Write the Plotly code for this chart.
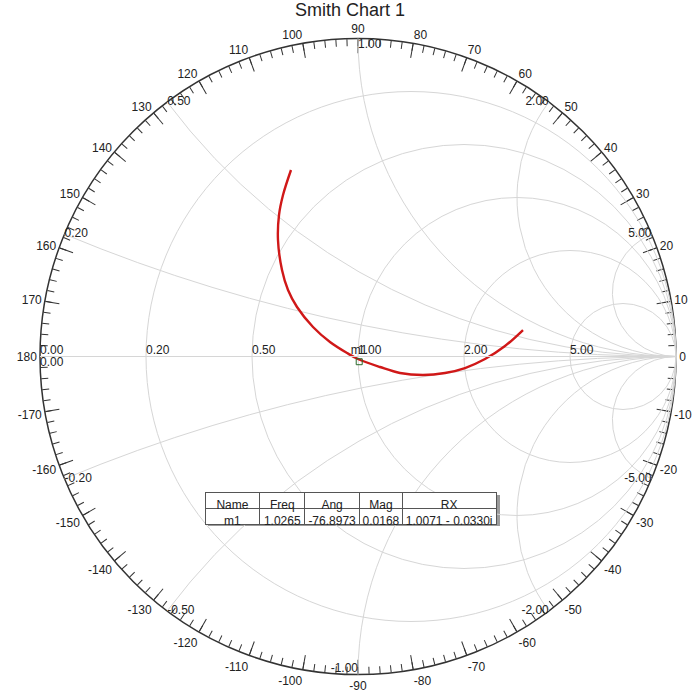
import plotly.graph_objects as go

title_text = "Smith Chart 1"

# S11 (reflection coefficient)
s11_re = [-0.2107, -0.2358, -0.2484, -0.2516, -0.2390, -0.2201, -0.1918, -0.1415, -0.0881,
          -0.0346, 0.0000, 0.0692, 0.1321, 0.2044, 0.2736, 0.3365, 0.3994, 0.4623, 0.5189]
s11_im = [0.5865, 0.5079, 0.4450, 0.3664, 0.2720, 0.2091, 0.1557, 0.0928, 0.0456,
          0.0110, -0.0079, -0.0330, -0.0519, -0.0582, -0.0519, -0.0362, -0.0079, 0.0330, 0.0833]

marker_name = "m1"
marker_r = 1.0071
marker_x = -0.0330

r_ticks = [0.2, 0.5, 1, 2, 5]
x_ticks = [-5, -2, -1, -0.5, -0.2, 0, 0.2, 0.5, 1, 2, 5]
angle_major = list(range(0, 360, 10))
angle_minor = list(range(0, 360, 2))

table_header = ["Name", "Freq", "Ang", "Mag", "RX"]
table_row = ["m1", "1.0265", "-76.8973", "0.0168", "1.0071 - 0.0330i"]

FONT = "Liberation Sans, Arial, sans-serif"
TXT = "#222222"

# normalized impedance from S11
z = [(1 + complex(a, b)) / (1 - complex(a, b)) for a, b in zip(s11_re, s11_im)]
z_re = [v.real for v in z]
z_im = [v.imag for v in z]

# subplot geometry (circle centre 358,356.5 px, radius 318 px)
W, H = 700, 691
cx, cy, R = 358, 356.5, 318
dom_x = [(cx - R) / W, (cx + R) / W]
dom_y = [(H - cy - R) / H, (H - cy + R) / H]

fig = go.Figure()

# data curve
fig.add_trace(go.Scattersmith(real=z_re, imag=z_im, mode="lines",
                              line=dict(color="#d01818", width=2.4, shape="spline"),
                              hoverinfo="skip", showlegend=False))

# resistance labels along the real axis
r_lab_vals = [0] + r_ticks
fig.add_trace(go.Scattersmith(real=r_lab_vals, imag=[0] * len(r_lab_vals), mode="text",
                              text=["%.2f" % v for v in r_lab_vals], textposition="top right",
                              textfont=dict(family=FONT, size=12, color=TXT),
                              hoverinfo="skip", showlegend=False))

# reactance labels around the rim
pos = {0.2: "middle right", 0.5: "middle right", 1: "bottom right", 2: "middle left", 5: "middle left",
       -0.2: "middle right", -0.5: "middle right", -1: "top left", -2: "middle left", -5: "middle left",
       0: "bottom right"}
fig.add_trace(go.Scattersmith(real=[0] * len(x_ticks), imag=x_ticks, mode="text",
                              text=["%.2f" % v for v in x_ticks],
                              textposition=[pos[v] for v in x_ticks],
                              textfont=dict(family=FONT, size=12, color=TXT),
                              hoverinfo="skip", showlegend=False))

# marker m1
fig.add_trace(go.Scattersmith(real=[marker_r], imag=[marker_x], mode="markers+text",
                              text=[marker_name], textposition="top center",
                              textfont=dict(family=FONT, size=12, color=TXT),
                              marker=dict(symbol="square-open", size=6, color="#2a6a2a", line=dict(width=1)),
                              hoverinfo="skip", showlegend=False))

# polar overlays for the angle scale on the rim
ang_text = [str(a if a <= 180 else a - 360) for a in angle_major]
fig.add_trace(go.Scatterpolar(r=[0], theta=[0], mode="markers", marker=dict(opacity=0),
                              subplot="polar", hoverinfo="skip", showlegend=False))
fig.add_trace(go.Scatterpolar(r=[0], theta=[0], mode="markers", marker=dict(opacity=0),
                              subplot="polar2", hoverinfo="skip", showlegend=False))

# marker table
tx0, tx1, ty0, ty1 = 205, 497, 492, 523
fig.add_trace(go.Table(
    domain=dict(x=[tx0 / W, tx1 / W], y=[(H - ty1 - 6) / H, (H - ty0) / H]),
    columnwidth=[55, 45, 55, 43, 94],
    header=dict(values=table_header, height=16, fill_color="white",
                line=dict(color="#555555", width=1),
                font=dict(family=FONT, size=12, color=TXT), align="center"),
    cells=dict(values=[[v.replace(" ", "\u00a0")] for v in table_row], height=16, fill_color="white",
               line=dict(color="#555555", width=1),
               font=dict(family=FONT, size=12, color=TXT), align="center"),
))

grid = "#d6d6d6"
fig.update_layout(
    width=W, height=H,
    margin=dict(l=0, r=0, t=0, b=0),
    paper_bgcolor="white",
    title=dict(text=title_text, x=0.5, xanchor="center", y=1 - 10 / H, yanchor="middle",
               font=dict(family=FONT, size=18, color=TXT)),
    smith=dict(
        domain=dict(x=dom_x, y=dom_y),
        bgcolor="rgba(0,0,0,0)",
        realaxis=dict(tickvals=r_ticks, showticklabels=False, ticks="",
                      gridcolor=grid, gridwidth=1, showline=True, linecolor=grid, linewidth=1),
        imaginaryaxis=dict(tickvals=x_ticks, showticklabels=False, ticks="",
                           gridcolor=grid, gridwidth=1, showline=False),
    ),
    polar=dict(
        domain=dict(x=dom_x, y=dom_y), bgcolor="rgba(0,0,0,0)",
        radialaxis=dict(visible=False, range=[0, 1]),
        angularaxis=dict(tickmode="array", tickvals=angle_major, ticktext=ang_text,
                         ticks="inside", ticklen=14, tickwidth=1.3, tickcolor="#333333",
                         showline=True, linecolor="#333333", linewidth=1.5, showgrid=False,
                         rotation=0, direction="counterclockwise",
                         tickfont=dict(family=FONT, size=12, color=TXT)),
    ),
    polar2=dict(
        domain=dict(x=dom_x, y=dom_y), bgcolor="rgba(0,0,0,0)",
        radialaxis=dict(visible=False, range=[0, 1]),
        angularaxis=dict(tickmode="array", tickvals=angle_minor, showticklabels=False,
                         ticks="inside", ticklen=7, tickwidth=1.1, tickcolor="#333333",
                         showline=False, showgrid=False, rotation=0, direction="counterclockwise"),
    ),
    shapes=[
        dict(type="rect", xref="paper", yref="paper", layer="below",
             x0=(tx0 + 3) / W, x1=(tx1 + 3) / W, y0=(H - ty1 - 3) / H, y1=(H - ty0 - 3) / H,
             fillcolor="#9a9a9a", line=dict(width=0)),
    ],
)

fig.write_html("out.html", config={"displayModeBar": False},
               post_script="document.body.style.margin='0px';")
